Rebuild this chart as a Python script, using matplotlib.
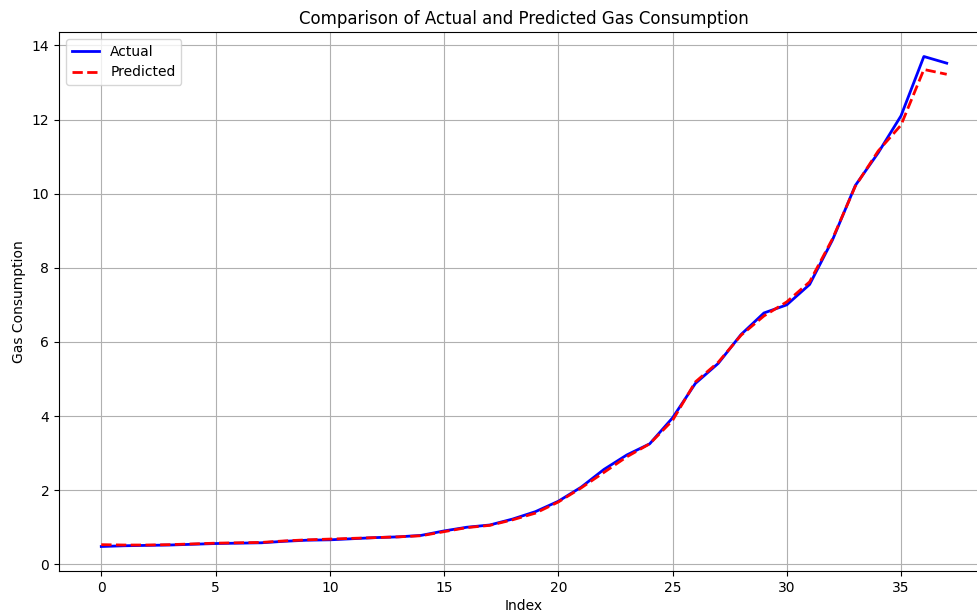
import matplotlib
matplotlib.use("Agg")
import matplotlib.pyplot as plt
import numpy as np

# Values
index = np.arange(38)
actual = [0.48, 0.50, 0.51, 0.52, 0.54, 0.56, 0.57, 0.58, 0.62, 0.65,
          0.66, 0.69, 0.72, 0.74, 0.78, 0.90, 1.00, 1.06, 1.22, 1.42,
          1.70, 2.08, 2.56, 2.95, 3.25, 3.95, 4.88, 5.42, 6.20, 6.78,
          7.00, 7.55, 8.75, 10.22, 11.10, 12.10, 13.70, 13.52]
predicted = [0.53, 0.52, 0.52, 0.53, 0.55, 0.57, 0.58, 0.59, 0.63, 0.66,
             0.68, 0.70, 0.72, 0.74, 0.77, 0.88, 0.99, 1.05, 1.20, 1.38,
             1.68, 2.06, 2.48, 2.90, 3.25, 3.88, 4.92, 5.45, 6.18, 6.70,
             7.08, 7.62, 8.78, 10.20, 11.15, 11.85, 13.35, 13.22]

fig = plt.figure(figsize=(9.78, 6.12), dpi=100)
# the reference is a crop: the axes run past the right edge of the picture
ax = fig.add_axes([59 / 978, 1 - 571 / 612, 930 / 978, 539 / 612])

ax.plot(index, actual, color="blue", lw=2, label="Actual")
ax.plot(index, predicted, color="red", lw=2, ls="--", label="Predicted")

ax.set_title("Comparison of Actual and Predicted Gas Consumption", fontsize=12)
ax.set_xlabel("Index", labelpad=3)
ax.set_ylabel("Gas Consumption")
ax.grid(True)
ax.legend(loc="upper left")

fig.savefig("out.png", dpi=100)
